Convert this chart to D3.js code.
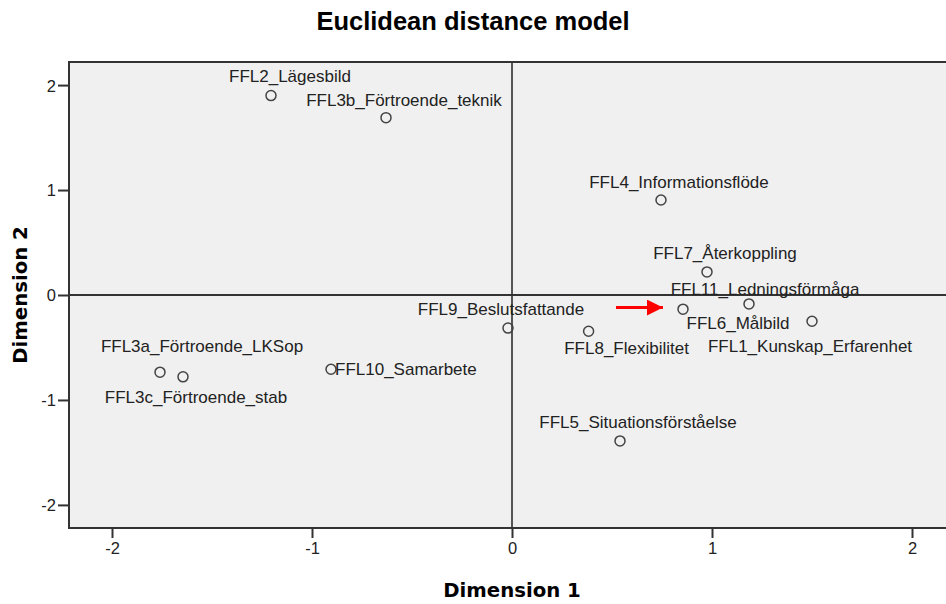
<!DOCTYPE html>
<html>
<head>
<meta charset="utf-8">
<script src="https://cdn.jsdelivr.net/npm/d3@7"></script>
<style>
  body { margin: 0; background: #fff; }
  .tickText { font-family: "Liberation Sans", Arial, sans-serif; font-size: 16.5px; fill: #222; }
  .pointText { font-family: "Liberation Sans", Arial, sans-serif; font-size: 17px; fill: #222; }
  .axisTitle { font-family: "DejaVu Sans", Verdana, sans-serif; font-weight: bold; font-size: 19.7px; fill: #000; }
</style>
</head>
<body>
<div class="article"></div>
<script>
// stimulus names and coordinates
var names = ["FFL1_Kunskap_Erfarenhet", "FFL2_Lägesbild", "FFL3a_Förtroende_LKSop", "FFL3b_Förtroende_teknik",
    "FFL3c_Förtroende_stab", "FFL4_Informationsflöde", "FFL5_Situationsförståelse", "FFL6_Målbild",
    "FFL7_Återkoppling", "FFL8_Flexibilitet", "FFL9_Beslutsfattande", "FFL10_Samarbete", "FFL11_Ledningsförmåga"];
var dim1 = [1.50, -1.205, -1.76, -0.63, -1.645, 0.745, 0.54, 0.855, 0.975, 0.383, -0.02, -0.905, 1.185];
var dim2 = [-0.25, 1.90, -0.735, 1.69, -0.78, 0.905, -1.39, -0.135, 0.22, -0.345, -0.315, -0.707, -0.085];
var xTicks = [-2, -1, 0, 1, 2];
var yTicks = [-2, -1, 0, 1, 2];

// label placement relative to each marker (px), like SPSS puts them
var labelDx = [-2, 19, 42, 18, 13, 18, 18, 55, 18, 38, -7, 4, 16];
var labelDy = [25, -20, -26, -18, 20, -18, -19, 14, -19, 17, -19, 0, -15];
var labelAnchor = ["middle", "middle", "middle", "middle", "middle", "middle", "middle", "middle",
    "middle", "middle", "middle", "start", "middle"];

var svgWidth = 946, svgHeight = 604;
var margin = { top: 62, left: 69, bottom: 76 };
var chartHeight = svgHeight - margin.top - margin.bottom;
var chartWidth = 886; // frame runs past the right edge

var svg = d3.select(".article").append("svg")
    .attr("width", svgWidth)
    .attr("height", svgHeight);

var xScale = d3.scaleLinear().domain([-2.215, 2.215]).range([margin.left, margin.left + chartWidth]);
var yScale = d3.scaleLinear().domain([-2.22, 2.22]).range([margin.top + chartHeight, margin.top]);

// plot background
svg.append("rect")
    .attr("x", margin.left).attr("y", margin.top)
    .attr("width", chartWidth).attr("height", chartHeight)
    .attr("fill", "#f0f0f0");

// zero reference lines
svg.append("line")
    .attr("x1", xScale(0)).attr("x2", xScale(0))
    .attr("y1", margin.top).attr("y2", margin.top + chartHeight)
    .attr("stroke", "#222").attr("stroke-width", 1.5);
svg.append("line")
    .attr("x1", margin.left).attr("x2", margin.left + chartWidth)
    .attr("y1", yScale(0)).attr("y2", yScale(0))
    .attr("stroke", "#333").attr("stroke-width", 2);

// axes (plain hyphen for minus, like SPSS)
var fmt = d => String(d);
var xAxis = d3.axisBottom(xScale).tickValues(xTicks).tickSize(10).tickPadding(4).tickFormat(fmt);
var yAxis = d3.axisLeft(yScale).tickValues(yTicks).tickSize(11).tickPadding(2).tickFormat(fmt);

var gx = svg.append("g")
    .attr("transform", `translate(0, ${margin.top + chartHeight})`)
    .call(xAxis);
var gy = svg.append("g")
    .attr("transform", `translate(${margin.left}, 0)`)
    .call(yAxis);

[gx, gy].forEach(g => {
    g.select(".domain").remove();
    g.selectAll(".tick line").attr("stroke", "#333").attr("stroke-width", 2);
    g.selectAll(".tick text").attr("class", "tickText").attr("font-size", null).attr("font-family", null);
});
gy.selectAll(".tick text").attr("dy", "0.36em");

// frame
svg.append("rect")
    .attr("x", margin.left).attr("y", margin.top)
    .attr("width", chartWidth).attr("height", chartHeight)
    .attr("fill", "none")
    .attr("stroke", "#333").attr("stroke-width", 2);

// points
var idx = d3.range(names.length);
svg.append("g").selectAll("circle")
    .data(idx)
    .enter()
    .append("circle")
    .attr("cx", i => xScale(dim1[i]))
    .attr("cy", i => yScale(dim2[i]))
    .attr("r", 5)
    .attr("fill", "none")
    .attr("stroke", "#444")
    .attr("stroke-width", 1.5);

svg.append("g").selectAll("text")
    .data(idx)
    .enter()
    .append("text")
    .attr("class", "pointText")
    .attr("x", i => xScale(dim1[i]) + labelDx[i])
    .attr("y", i => yScale(dim2[i]) + labelDy[i])
    .attr("dy", "0.35em")
    .attr("text-anchor", i => labelAnchor[i])
    .text(i => names[i]);

// red arrow pointing at FFL6
svg.append("defs").append("marker")
    .attr("id", "head")
    .attr("viewBox", "0 0 10 10")
    .attr("refX", 10).attr("refY", 5)
    .attr("markerWidth", 16).attr("markerHeight", 16)
    .attr("markerUnits", "userSpaceOnUse")
    .attr("orient", "auto")
    .append("path")
    .attr("d", "M0,0 L10,5 L0,10 Z")
    .attr("fill", "#f00");
svg.append("line")
    .attr("x1", xScale(0.52)).attr("x2", xScale(0.755))
    .attr("y1", yScale(-0.12)).attr("y2", yScale(-0.12))
    .attr("stroke", "#f00").attr("stroke-width", 3)
    .attr("marker-end", "url(#head)");

// titles
svg.append("text")
    .attr("x", 473).attr("y", 30)
    .attr("text-anchor", "middle")
    .attr("font-family", "'Liberation Sans', Arial, sans-serif")
    .attr("font-weight", "bold")
    .attr("font-size", 25.5)
    .text("Euclidean distance model");

svg.append("text")
    .attr("class", "axisTitle")
    .attr("x", 512).attr("y", 597)
    .attr("text-anchor", "middle")
    .text("Dimension 1");

svg.append("text")
    .attr("class", "axisTitle")
    .attr("transform", `translate(27, ${margin.top + chartHeight / 2}) rotate(-90)`)
    .attr("text-anchor", "middle")
    .text("Dimension 2");
</script>
</body>
</html>
